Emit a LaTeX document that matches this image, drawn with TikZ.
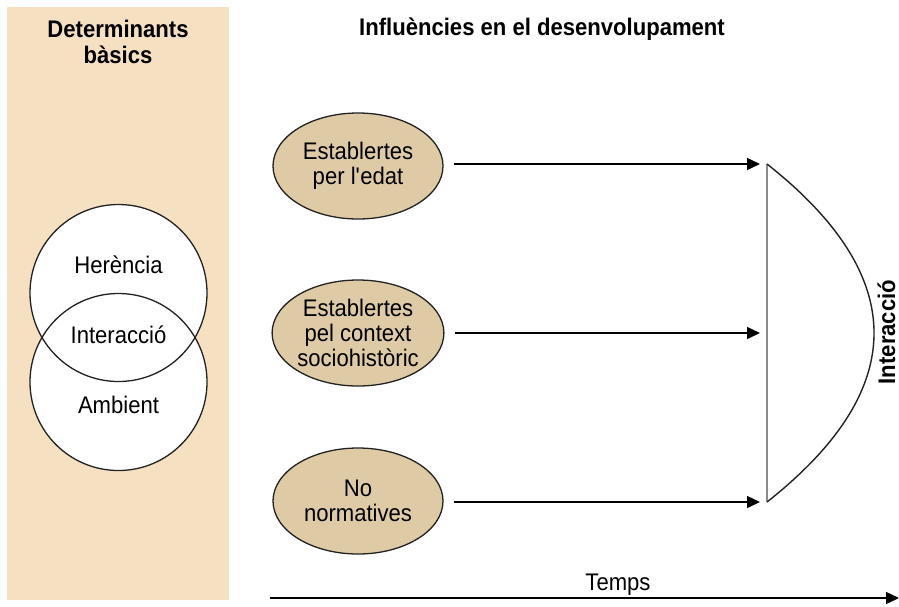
\documentclass[tikz,border=0pt]{standalone}
\usepackage{fontspec}
\setmainfont{Liberation Sans}[FakeStretch=0.92]
\usetikzlibrary{shapes.geometric,arrows.meta}
\definecolor{panel}{HTML}{F5E1C2}
\definecolor{ellfill}{HTML}{DECBA5}
\definecolor{edge}{HTML}{222222}
\definecolor{grayline}{HTML}{8A8A8A}
\tikzset{
  txt/.style={font=\fontsize{24}{25}\selectfont, inner sep=0pt, text=black},
  ttl/.style={font=\fontsize{24}{26}\selectfont\bfseries, inner sep=0pt, text=black},
  infl/.style={ellipse, draw=edge, line width=1.3pt, fill=ellfill, minimum width=170pt, minimum height=106pt, inner sep=0pt, align=center, font=\fontsize{24}{25}\selectfont},
  flow/.style={draw=black, line width=1.4pt, -{Triangle[length=13pt,width=12pt]}}
}
\begin{document}
\begin{tikzpicture}[x=1pt,y=-1pt]
\useasboundingbox (0,0) rectangle (899,606);
% panel
\fill[panel] (7,7) rectangle (229,600);
\node[ttl, anchor=base] (det1) at (118,37) {Determinants};
\node[ttl, anchor=base] (det2) at (118,63) {bàsics};
% Venn
\coordinate (cH) at (118.5,293);
\coordinate (cA) at (118.5,382);
\fill[white] (cH) circle (88.5pt) (cA) circle (88.5pt);
\draw[edge, line width=1.3pt] (cH) circle (88.5pt) (cA) circle (88.5pt);
\node[txt, anchor=base] (her) at (118.5,273) {Herència};
\node[txt, anchor=base] (int) at (118.5,343) {Interacció};
\node[txt, anchor=base] (amb) at (118.5,413) {Ambient};
% title
\node[ttl, anchor=base] (infl) at (542,35) {Influències en el desenvolupament};
% ellipses
\node[infl] (e1) at (358,166) {Establertes\\per l\textquotesingle edat};
\node[infl] (e2) at (358,333) {Establertes\\pel context\\sociohistòric};
\node[infl] (e3) at (358,501) {No\\normatives};
% interaction shape
\coordinate (top) at (767,164);
\coordinate (bot) at (767,502);
\coordinate (t1) at (760,164);
\coordinate (t2) at (760,333);
\coordinate (t3) at (760,502);
\draw[grayline, line width=2pt] (top) -- (bot);
\draw[edge, line width=1.4pt] (top) .. controls (909.7,276.7) and (909.7,389.3) .. (bot);
\node[ttl, rotate=90, anchor=base] (inter) at (895,332) {Interacció};
% arrows
\draw[flow] ([xshift=10pt]e1.east |- t1) -- (t1);
\draw[flow] ([xshift=10pt]e2.east |- t2) -- (t2);
\draw[flow] ([xshift=10pt]e3.east |- t3) -- (t3);
% time
\coordinate (ts) at (270,598);
\coordinate (te) at (899,598);
\draw[flow] (ts) -- (te);
\node[txt, anchor=base] (temps) at (618,590) {Temps};
\end{tikzpicture}
\end{document}
